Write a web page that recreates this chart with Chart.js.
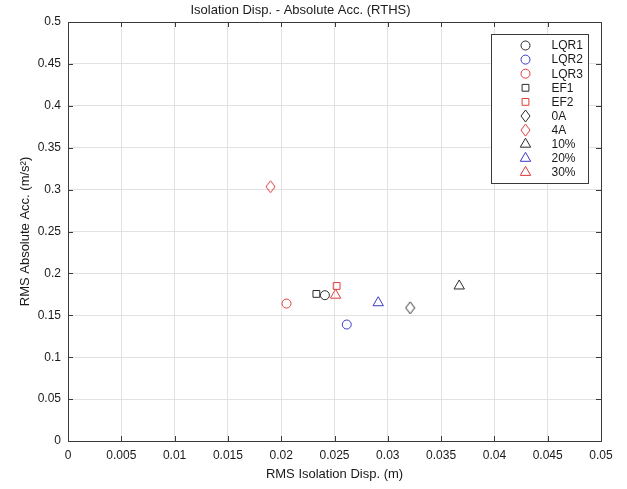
<!DOCTYPE html>
<html>
<head>
<meta charset="utf-8">
<script src="https://cdn.jsdelivr.net/npm/chart.js@4.4.1/dist/chart.umd.min.js"></script>
<style>
  html, body { margin: 0; padding: 0; background: #fff; }
  #chart { display: block; }
</style>
</head>
<body>
<canvas id="chart" width="627" height="489"></canvas>
<script>
// data
const seriesNames = ["LQR1", "LQR2", "LQR3", "EF1", "EF2", "0A", "4A", "10%", "20%", "30%"];
const dispValues = [0.0241, 0.02615, 0.0205, 0.0233, 0.0252, 0.0321, 0.0190, 0.0367, 0.0291, 0.0251];
const accValues = [0.174, 0.139, 0.164, 0.1755, 0.185, 0.159, 0.3035, 0.185, 0.165, 0.174];

const xTickValues = [0, 0.005, 0.01, 0.015, 0.02, 0.025, 0.03, 0.035, 0.04, 0.045, 0.05];
const xTickLabels = ["0", "0.005", "0.01", "0.015", "0.02", "0.025", "0.03", "0.035", "0.04", "0.045", "0.05"];
const yTickValues = [0, 0.05, 0.1, 0.15, 0.2, 0.25, 0.3, 0.35, 0.4, 0.45, 0.5];
const yTickLabels = ["0", "0.05", "0.1", "0.15", "0.2", "0.25", "0.3", "0.35", "0.4", "0.45", "0.5"];

// marker styles
const BLACK = "#2b2b2b";
const BLUE = "#3a3ac6";
const RED = "#de3c3c";
const seriesColors = [BLACK, BLUE, RED, BLACK, RED, BLACK, RED, BLACK, BLUE, RED];
const seriesShapes = ["circle", "circle", "circle", "square", "square", "diamond", "diamond", "triangle", "triangle", "triangle"];

const FONT = "'Liberation Sans', Arial, sans-serif";
const AXIS_COLOR = "#3a3a3a";

// MATLAB style diamond is taller than it is wide
function diamondImage(color) {
  const c = document.createElement("canvas");
  c.width = 11;
  c.height = 14;
  const g = c.getContext("2d");
  g.strokeStyle = color;
  g.lineWidth = 1;
  g.beginPath();
  g.moveTo(5.5, 1);
  g.lineTo(10, 7);
  g.lineTo(5.5, 13);
  g.lineTo(1, 7);
  g.closePath();
  g.stroke();
  return c;
}

function markerOptions(shape, color) {
  if (shape === "circle") return { pointStyle: "circle", radius: 4.5 };
  if (shape === "square") return { pointStyle: "rect", radius: 4.8 };
  if (shape === "triangle") return { pointStyle: "triangle", radius: 6 };
  return { pointStyle: diamondImage(color), radius: 6 };
}

const datasets = seriesNames.map((name, i) => {
  const m = markerOptions(seriesShapes[i], seriesColors[i]);
  return {
    label: name,
    data: [{ x: dispValues[i], y: accValues[i] }],
    pointStyle: m.pointStyle,
    pointRadius: m.radius,
    pointHoverRadius: m.radius,
    pointBorderWidth: 1,
    borderColor: seriesColors[i],
    backgroundColor: "rgba(0,0,0,0)",
    showLine: false,
  };
});

// box around the axes plus inward tick marks
const boxPlugin = {
  id: "box",
  afterDatasetsDraw(chart) {
    const { ctx, chartArea: a, scales } = chart;
    ctx.save();
    ctx.strokeStyle = AXIS_COLOR;
    ctx.lineWidth = 1;
    ctx.strokeRect(Math.round(a.left) + 0.5, Math.round(a.top) + 0.5,
      Math.round(a.right - a.left), Math.round(a.bottom - a.top));
    ctx.beginPath();
    xTickValues.forEach((v) => {
      const px = Math.round(scales.x.getPixelForValue(v)) + 0.5;
      ctx.moveTo(px, a.bottom);
      ctx.lineTo(px, a.bottom - 5);
      ctx.moveTo(px, a.top);
      ctx.lineTo(px, a.top + 5);
    });
    yTickValues.forEach((v) => {
      const py = Math.round(scales.y.getPixelForValue(v)) + 0.5;
      ctx.moveTo(a.left, py);
      ctx.lineTo(a.left + 5, py);
      ctx.moveTo(a.right, py);
      ctx.lineTo(a.right - 5, py);
    });
    ctx.stroke();
    ctx.restore();
  },
};

// legend box inside the plot, upper right
const insideLegend = {
  id: "insideLegend",
  afterDraw(chart) {
    const { ctx, chartArea: a } = chart;
    const w = 97;
    const h = 149;
    const left = Math.round(a.right - 13 - w) + 0.5;
    const top = Math.round(a.top + 12) + 0.5;
    ctx.save();
    ctx.fillStyle = "#fff";
    ctx.fillRect(left, top, w, h);
    ctx.strokeStyle = AXIS_COLOR;
    ctx.lineWidth = 1;
    ctx.strokeRect(left, top, w, h);

    ctx.font = "12px " + FONT;
    ctx.textBaseline = "middle";
    ctx.textAlign = "left";
    chart.data.datasets.forEach((ds, i) => {
      const y = top + 11 + i * 14.1;
      ctx.strokeStyle = ds.borderColor;
      ctx.fillStyle = "rgba(0,0,0,0)";
      ctx.lineWidth = 1;
      Chart.helpers.drawPoint(ctx, {
        pointStyle: ds.pointStyle,
        radius: ds.pointRadius,
        rotation: 0,
        borderWidth: 1,
      }, left + 34, y);
      ctx.fillStyle = "#1a1a1a";
      ctx.fillText(ds.label, left + 60, y + 0.5);
    });
    ctx.restore();
  },
};

new Chart(document.getElementById("chart"), {
  type: "scatter",
  data: { datasets },
  plugins: [boxPlugin, insideLegend],
  options: {
    responsive: false,
    animation: false,
    events: [],
    layout: { padding: { top: 0, right: 26, bottom: 0, left: 0 } },
    plugins: {
      legend: { display: false },
      tooltip: { enabled: false },
      title: {
        display: true,
        text: "Isolation Disp. - Absolute Acc. (RTHS)",
        color: "#1a1a1a",
        font: { family: FONT, size: 13, weight: "normal" },
        padding: { top: 3, bottom: 3.4 },
      },
    },
    scales: {
      x: {
        type: "linear",
        min: 0,
        max: 0.05,
        afterBuildTicks: (s) => { s.ticks = xTickValues.map((v) => ({ value: v })); },
        afterFit: (s) => { s.height = 48; },
        ticks: {
          padding: 7,
          color: "#1a1a1a",
          maxRotation: 0,
          autoSkip: false,
          font: { family: FONT, size: 12 },
          callback: (v, i) => xTickLabels[i],
        },
        grid: { color: "#e2e2e2", drawTicks: false },
        border: { display: false },
        title: {
          display: true,
          text: "RMS Isolation Disp. (m)",
          color: "#1a1a1a",
          font: { family: FONT, size: 13 },
          padding: { top: 0, bottom: 7.2 },
        },
      },
      y: {
        type: "linear",
        min: 0,
        max: 0.5,
        afterBuildTicks: (s) => { s.ticks = yTickValues.map((v) => ({ value: v })); },
        afterFit: (s) => { s.width = 68; },
        ticks: {
          padding: 7,
          color: "#1a1a1a",
          autoSkip: false,
          font: { family: FONT, size: 12 },
          callback: (v, i) => yTickLabels[i],
        },
        grid: { color: "#e2e2e2", drawTicks: false },
        border: { display: false },
        title: {
          display: true,
          text: "RMS Absolute Acc. (m/s\u00B2)",
          color: "#1a1a1a",
          font: { family: FONT, size: 13 },
          padding: { top: 17.2, bottom: 0 },
        },
      },
    },
  },
});
</script>
</body>
</html>
